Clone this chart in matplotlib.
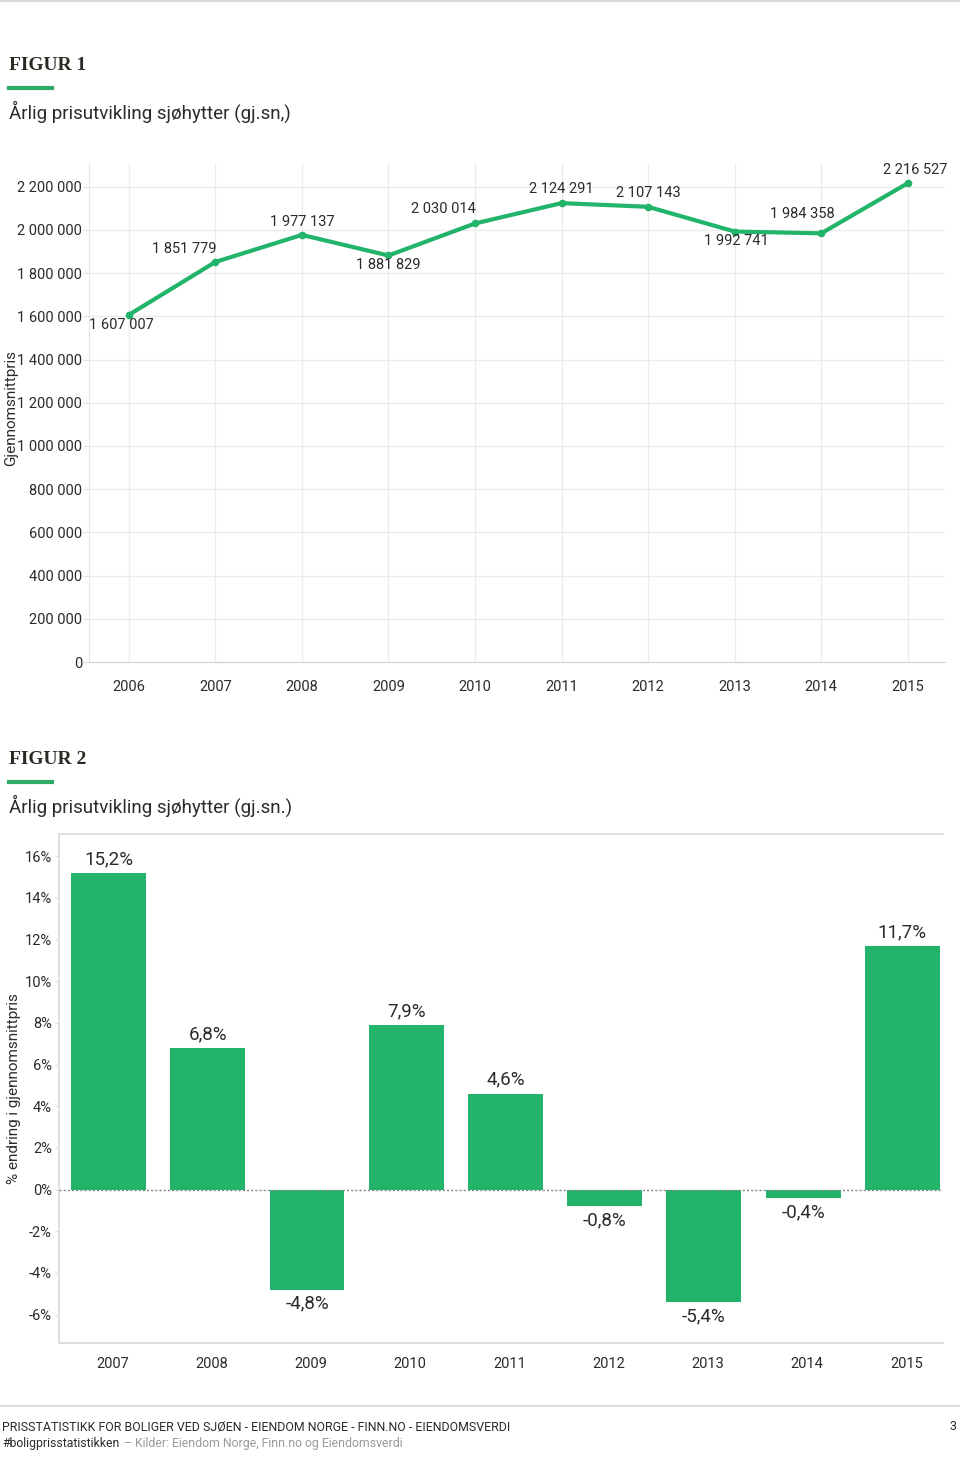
import matplotlib
matplotlib.use("Agg")
import matplotlib.pyplot as plt
from matplotlib.lines import Line2D
from matplotlib.transforms import ScaledTranslation

# ---------------- data ----------------
years1 = [2006, 2007, 2008, 2009, 2010, 2011, 2012, 2013, 2014, 2015]
prices = [1607007, 1851779, 1977137, 1881829, 2030014, 2124291, 2107143, 1992741, 1984358, 2216527]
yticks1 = [0, 200000, 400000, 600000, 800000, 1000000, 1200000, 1400000, 1600000,
           1800000, 2000000, 2200000]

years2 = [2007, 2008, 2009, 2010, 2011, 2012, 2013, 2014, 2015]
changes = [15.2, 6.8, -4.8, 7.9, 4.6, -0.8, -5.4, -0.4, 11.7]
yticks2 = [-6, -4, -2, 0, 2, 4, 6, 8, 10, 12, 14, 16]

title1 = "FIGUR 1"
subtitle1 = "Årlig prisutvikling sjøhytter (gj.sn,)"
title2 = "FIGUR 2"
subtitle2 = "Årlig prisutvikling sjøhytter (gj.sn.)"
ylabel1 = "Gjennomsnittpris"
ylabel2 = "% endring i gjennomsnittpris"
footer1 = "PRISSTATISTIKK FOR BOLIGER VED SJØEN - EIENDOM NORGE - FINN.NO - EIENDOMSVERDI"
footer2a = "#boligprisstatistikken"
footer2b = "– Kilder: Eiendom Norge, Finn.no og Eiendomsverdi"
page_no = "3"

# label offsets (pixels) for line chart annotations
label_off1 = [(-7, -10), (-31, 13), (0, 13), (0, -10), (-32, 14), (0, 14), (0, 14),
              (2, -9), (-19, 19), (7, 13)]

# ---------------- style ----------------
W, H = 960, 1457
GREEN = "#22b46b"
TXT = "#2b2b2b"
GRID = "#ececec"
FONT = ["Roboto", "DejaVu Sans"]
plt.rcParams["font.family"] = FONT

fig = plt.figure(figsize=(W / 100, H / 100), dpi=100)


def fx(px):
    return px / W


def fy(py):
    return 1 - py / H


# page decorations
fig.add_artist(Line2D([0, 1], [fy(1), fy(1)], color="#d8d8d8", lw=1.5))
fig.add_artist(Line2D([0, 1], [fy(1406), fy(1406)], color="#dcdcdc", lw=1.5))

for t, st, ty, ly, sy in [(title1, subtitle1, 65, 88, 112), (title2, subtitle2, 759, 782, 806)]:
    fig.text(fx(9), fy(ty), t, family="Liberation Serif", fontweight="bold", fontsize=14,
             color="#2a2a22", va="center", ha="left")
    fig.add_artist(Line2D([fx(9), fx(52)], [fy(ly), fy(ly)], color="#2eaa64", lw=3))
    fig.text(fx(9), fy(sy), st, fontsize=13.5, color=TXT, va="center", ha="left")

fig.text(fx(2), fy(1427), footer1, fontsize=8.9, color=TXT, va="center", ha="left")
fig.text(fx(956), fy(1427), page_no, fontsize=8.9, color=TXT, va="center", ha="right")
fig.text(fx(2), fy(1444), footer2a, fontsize=8.8, color=TXT, va="center", ha="left")
fig.text(fx(124), fy(1444), footer2b, fontsize=8.8, color="#9a9a9a", va="center", ha="left")

# ---------------- chart 1 ----------------
l1, r1, t1_, b1 = 89, 945, 163, 662
ax1 = fig.add_axes([fx(l1), fy(b1), fx(r1 - l1), (b1 - t1_) / H])
ax1.plot(years1, prices, color=GREEN, lw=3, marker="o", ms=4.5, zorder=3,
         solid_capstyle="round")
ax1.set_xlim(2005.54, 2015.43)
ax1.set_ylim(0, 2310000)
ax1.set_yticks(yticks1)
ax1.set_yticklabels([f"{v:,}".replace(",", " ") for v in yticks1])
ax1.set_xticks(years1)
ax1.set_xticklabels([str(y) for y in years1])
ax1.grid(True, color=GRID, lw=1)
ax1.set_axisbelow(True)
for s in ["top", "right"]:
    ax1.spines[s].set_visible(False)
ax1.spines["left"].set_color("#e6e6e6")
ax1.spines["bottom"].set_color("#d0d0d0")
ax1.tick_params(axis="y", length=4, color="#e0e0e0", labelsize=10.5, labelcolor=TXT, pad=1)
ax1.tick_params(axis="x", length=0, labelsize=10.5, labelcolor=TXT, pad=13)
ax1.set_ylabel(ylabel1, fontsize=11, color=TXT)
ax1.yaxis.set_label_coords(-(89 - 18) / (r1 - l1), 0.51)
for x, v, (dx, dy) in zip(years1, prices, label_off1):
    ax1.annotate(f"{v:,}".replace(",", " "), (x, v), xytext=(dx * 0.72, dy * 0.72),
                 textcoords="offset points", ha="center", va="center", fontsize=10.5,
                 color=TXT)

# ---------------- chart 2 ----------------
l2, r2, t2_, b2 = 59, 943, 834, 1343
ax2 = fig.add_axes([fx(l2), fy(b2), fx(r2 - l2), (b2 - t2_) / H])
ax2.bar(years2, changes, width=0.755, color=GREEN, zorder=2)
ax2.axhline(0, color="#888888", lw=1, ls=(0, (1.5, 1.5)), zorder=3)
ax2.set_xlim(2006.5, 2015.41)
ax2.set_ylim(-7.36, 17.07)
ax2.set_yticks(yticks2)
ax2.set_yticklabels([f"{v}%" for v in yticks2])
ax2.set_xticks(years2)
ax2.set_xticklabels([str(y) for y in years2])
ax2.spines["right"].set_visible(False)
for s in ["top", "left", "bottom"]:
    ax2.spines[s].set_color("#dcdcdc")
    ax2.spines[s].set_linewidth(1.3)
ax2.tick_params(axis="y", length=3, color="#e0e0e0", labelsize=10.5, labelcolor=TXT, pad=2)
ax2.tick_params(axis="x", length=0, labelsize=10.5, labelcolor=TXT, pad=10)
shift = ScaledTranslation(4 / 100, 0, fig.dpi_scale_trans)
for lab in ax2.get_xticklabels():
    lab.set_transform(lab.get_transform() + shift)
ax2.set_ylabel(ylabel2, fontsize=11, color=TXT)
ax2.yaxis.set_label_coords(-(59 - 21) / (r2 - l2), 0.5)
for x, v in zip(years2, changes):
    off = 14 if v >= 0 else -14
    ax2.annotate(f"{v:.1f}%".replace(".", ","), (x, v), xytext=(0, off * 0.72),
                 textcoords="offset points", ha="center", va="center", fontsize=13.5,
                 color=TXT)

fig.savefig("out.png", dpi=100)
